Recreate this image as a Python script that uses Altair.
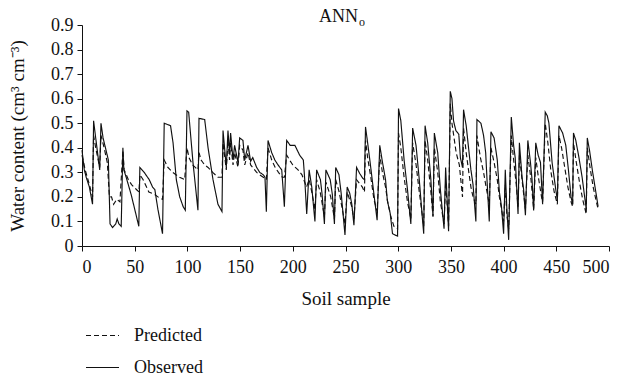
import altair as alt
import pandas as pd

# Observed series (soil sample index, water content)
obs_x = [0, 2.2, 4, 7, 10, 11, 13, 16.8, 18, 20, 22.8, 25, 26.6, 29, 32, 33.4, 35, 37.2, 38.8, 39.7,
         41.9, 46.6, 50, 53.9, 54.9, 59, 63.8, 67, 69.1, 72, 76.4, 78, 84, 86.4, 89.5, 92.7, 96, 98,
         99.6, 101.2, 105.3, 110, 111, 116.4, 119.6, 124.3, 129, 132.8,
         133.8, 136.9, 138.5, 140, 141, 143.3, 144.8, 148, 149.6, 152.7, 154.4,
         157.5, 160, 162, 165.7, 168.6, 172, 173.6, 174.9,
         176.5, 180, 183, 186, 189.5, 192, 194.2, 197.5, 202, 206.5, 210, 211.5, 213.2,
         215.5, 218, 221, 222.6, 226.2, 227.8, 230, 231.4, 235.5, 237.5, 239.5, 240.7, 243.8, 246, 249.5,
         251.6, 254, 256, 258, 260.5, 263.5, 266.5, 268, 269, 271, 273.5, 276.5, 280, 282.5, 285, 288,
         289.7, 292.4, 294.6, 297, 299.4, 300.3, 302.5, 305.6, 308.8, 312, 313.7, 316.9, 320, 323, 324.2,
         325.5, 328, 331, 333, 334.3, 337.5, 340, 343.5, 345, 347.8, 349.4, 351, 352.5, 354.7, 357.5,
         359, 361, 362, 364.5, 367, 369, 371, 373.7, 374.7, 378.5, 381, 383, 384.5, 386.4, 388, 391,
         394, 396, 398, 400, 401.6, 403, 404.8, 407.3, 409.5, 411, 413.7, 415, 417.5, 419, 420.7, 423,
         425.5, 427, 428.5, 430.5, 432.8, 435, 437, 439.5, 441.5, 443, 446, 449.5, 451, 452.5, 456, 459,
         461.5, 464, 465.5, 466.3, 468.5, 471.5, 474.5, 478.4, 479.4, 481.5, 484.5, 487.5, 489.7]
obs_y = [0.39, 0.31, 0.28, 0.24, 0.17, 0.51, 0.44, 0.31, 0.50, 0.44, 0.39, 0.35, 0.09, 0.075, 0.09, 0.11, 0.09, 0.08, 0.40, 0.31,
         0.28, 0.21, 0.15, 0.08, 0.32, 0.30, 0.27, 0.24, 0.23, 0.15, 0.05, 0.50, 0.49, 0.42, 0.27, 0.20, 0.16, 0.146,
         0.55, 0.545, 0.34, 0.146, 0.52, 0.515, 0.40, 0.27, 0.17, 0.14,
         0.47, 0.32, 0.47, 0.38, 0.46, 0.35, 0.41, 0.34, 0.44, 0.43, 0.35,
         0.41, 0.345, 0.36, 0.32, 0.30, 0.29, 0.28, 0.14,
         0.43, 0.38, 0.35, 0.33, 0.31, 0.16, 0.43, 0.41, 0.41, 0.37, 0.35, 0.26, 0.13,
         0.31, 0.24, 0.10, 0.31, 0.27, 0.21, 0.09, 0.31, 0.27, 0.21, 0.09, 0.32, 0.29, 0.21, 0.045,
         0.24, 0.215, 0.17, 0.085, 0.32, 0.295, 0.275, 0.27, 0.485, 0.42, 0.336, 0.228, 0.105, 0.41, 0.343, 0.27,
         0.185, 0.133, 0.05, 0.045, 0.04, 0.56, 0.51, 0.35, 0.23, 0.09, 0.48, 0.41, 0.27, 0.11, 0.05,
         0.49, 0.42, 0.27, 0.12, 0.46, 0.38, 0.23, 0.07, 0.32, 0.06, 0.63, 0.60, 0.51, 0.47, 0.455,
         0.36, 0.32, 0.555, 0.49, 0.39, 0.31, 0.25, 0.10, 0.515, 0.50, 0.45, 0.38, 0.25, 0.10, 0.465, 0.44,
         0.35, 0.22, 0.16, 0.05, 0.31, 0.16, 0.025, 0.525, 0.41, 0.36, 0.13, 0.42, 0.28, 0.23, 0.125, 0.43,
         0.34, 0.27, 0.145, 0.42, 0.37, 0.34, 0.17, 0.545, 0.53, 0.50, 0.34, 0.23, 0.185, 0.49, 0.46, 0.41,
         0.31, 0.20, 0.17, 0.46, 0.43, 0.36, 0.28, 0.15, 0.44, 0.39, 0.30, 0.22, 0.16]

# Predicted series (ANN_o)
pred_x = [0, 3, 7, 10, 11, 13, 16.8, 18, 21, 24, 26, 28, 30, 33, 36, 38.8, 40, 44, 47, 51.6, 54, 55, 58,
          63.4, 69, 72, 76.4, 78, 81.5, 86, 92.6, 97.4, 99.6, 101.5, 105, 110, 111, 113, 116.4, 119.6,
          124, 129, 132.8, 133.8, 136.9, 138.5, 140, 141, 143.3, 144.8, 148, 149.6, 152.7, 154.4, 157.5,
          160, 162, 165.7, 168.6, 172, 174.9, 176.5, 180, 183.3, 186.4, 190, 192, 194.2, 197, 200, 205,
          208.7, 213, 215.5, 218, 221, 222.6, 226, 230, 231.4, 236, 239.5, 240.7, 244, 249.5, 251.6, 256,
          258, 260.5, 266, 268, 269, 271, 274, 277, 280, 282.5, 285, 288, 290, 293, 296, 299.4, 300.3,
          302.5, 305.6, 308.8, 312, 313.7, 317, 320, 324.2, 325.5, 328, 331, 333, 334.3, 337.5, 340,
          343.5, 345, 347.8, 349.4, 351, 353, 355, 358, 361, 362, 364.5, 367, 369, 371, 373.7, 374.7, 378,
          381, 383, 386.4, 388, 391, 394, 396, 398, 400, 401.6, 403, 404.8, 407.3, 410, 412, 413.7, 415,
          418, 420.7, 423, 426, 428.5, 430.5, 433, 436, 437, 439.5, 442, 445, 448, 451, 452.5, 455, 458,
          461, 464, 465.5, 466.3, 469, 472, 475, 478.4, 479.4, 482, 485, 488, 489.7]
pred_y = [0.37, 0.31, 0.25, 0.20, 0.45, 0.40, 0.32, 0.45, 0.40, 0.34, 0.20, 0.20, 0.17, 0.19, 0.18, 0.39, 0.31, 0.27, 0.25, 0.23, 0.22, 0.29, 0.27,
          0.22, 0.21, 0.20, 0.19, 0.35, 0.32, 0.30, 0.28, 0.27, 0.40, 0.36, 0.33, 0.31, 0.38, 0.35, 0.33, 0.32,
          0.30, 0.28, 0.28, 0.42, 0.31, 0.43, 0.35, 0.42, 0.33, 0.38, 0.32, 0.41, 0.39, 0.33, 0.38,
          0.33, 0.32, 0.30, 0.29, 0.28, 0.27, 0.40, 0.35, 0.32, 0.30, 0.28, 0.28, 0.37, 0.35, 0.33, 0.31,
          0.29, 0.24, 0.27, 0.22, 0.15, 0.27, 0.22, 0.12, 0.26, 0.20, 0.11, 0.27, 0.22, 0.09, 0.22, 0.16,
          0.11, 0.27, 0.24, 0.22, 0.43, 0.36, 0.28, 0.19, 0.14, 0.37, 0.30, 0.24, 0.18, 0.12, 0.08, 0.07, 0.46,
          0.40, 0.28, 0.18, 0.11, 0.42, 0.33, 0.22, 0.08, 0.43, 0.35, 0.22, 0.12, 0.40, 0.30, 0.18,
          0.09, 0.26, 0.08, 0.58, 0.50, 0.44, 0.38, 0.33, 0.20, 0.48, 0.38, 0.30, 0.24, 0.20, 0.17, 0.45, 0.36,
          0.30, 0.25, 0.17, 0.40, 0.34, 0.27, 0.20, 0.15, 0.10, 0.25, 0.13, 0.07, 0.45, 0.33, 0.25, 0.16, 0.37,
          0.25, 0.15, 0.37, 0.27, 0.15, 0.36, 0.28, 0.20, 0.18, 0.50, 0.42, 0.30, 0.22, 0.17, 0.45, 0.40, 0.32,
          0.24, 0.18, 0.16, 0.42, 0.34, 0.26, 0.19, 0.13, 0.40, 0.32, 0.24, 0.18, 0.15]

series_names = ["Predicted", "Observed"]
x_ticks = [0, 50, 100, 150, 200, 250, 300, 350, 400, 450, 500]
y_ticks = [0, 0.1, 0.2, 0.3, 0.4, 0.5, 0.6, 0.7, 0.8, 0.9]

df = pd.concat([
    pd.DataFrame({"sample": pred_x, "water": pred_y, "series": series_names[0]}),
    pd.DataFrame({"sample": obs_x, "water": obs_y, "series": series_names[1]}),
])

FONT = "Liberation Serif"
INK = "#111111"

lines = alt.Chart(df).mark_line(color=INK, strokeWidth=1.15).encode(
    x=alt.X("sample:Q", scale=alt.Scale(domain=[0, 500], nice=False),
            axis=alt.Axis(values=x_ticks, title="Soil sample", grid=False, format="d",
                          tickSize=5, labelPadding=7, titlePadding=13)),
    y=alt.Y("water:Q", scale=alt.Scale(domain=[0, 0.9], nice=False),
            axis=alt.Axis(values=y_ticks, title="Water content (cm³ cm⁻³)", grid=False, format="~g",
                          tickSize=5, labelPadding=4, titlePadding=23)),
    strokeDash=alt.StrokeDash("series:N",
                              scale=alt.Scale(domain=series_names, range=[[5, 3], [1, 0]]),
                              legend=alt.Legend(title=None, orient="none", legendX=3, legendY=293,
                                                direction="vertical", symbolType="stroke",
                                                symbolSize=1089, symbolStrokeWidth=1.15,
                                                symbolStrokeColor=INK, labelFont=FONT,
                                                labelFontSize=18, labelColor=INK,
                                                labelOffset=14, rowPadding=5, padding=0)),
    detail="series:N",
)

title_main = alt.Chart(pd.DataFrame({"t": ["ANN"]})).mark_text(
    font=FONT, fontSize=18, align="right", baseline="alphabetic", color=INK
).encode(x=alt.value(276), y=alt.value(-3), text="t:N")

title_sub = alt.Chart(pd.DataFrame({"t": ["o"]})).mark_text(
    font=FONT, fontSize=12, align="left", baseline="alphabetic", color=INK
).encode(x=alt.value(277), y=alt.value(1), text="t:N")

chart = alt.layer(lines, title_main, title_sub).properties(
    width=527, height=221,
    autosize=alt.AutoSizeParams(type="none"),
    padding={"left": 82, "top": 25, "right": 14, "bottom": 135},
    background="white",
).configure_view(stroke=None).configure_axis(
    domainColor=INK, tickColor=INK, labelColor=INK, titleColor=INK,
    labelFont=FONT, titleFont=FONT, labelFontSize=18, titleFontSize=19, titleFontWeight="normal",
    domainWidth=1, tickWidth=1,
)

chart.save("out.html", embed_options={"renderer": "svg", "actions": False})
